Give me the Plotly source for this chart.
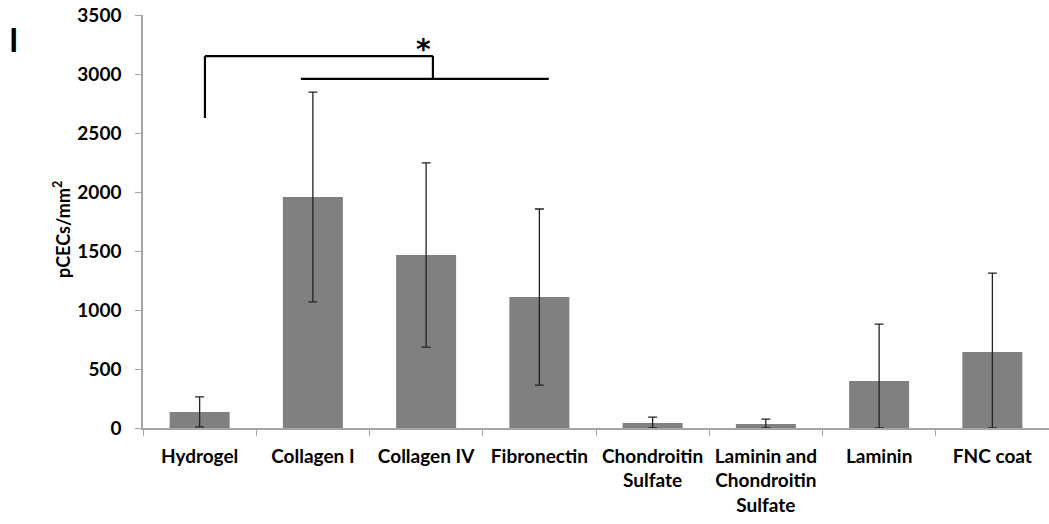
import plotly.graph_objects as go

categories = ["Hydrogel", "Collagen I", "Collagen IV", "Fibronectin",
              "Chondroitin<br>Sulfate", "Laminin and<br>Chondroitin<br>Sulfate",
              "Laminin", "FNC coat"]
values = [136, 1958, 1466, 1110, 42, 34, 398, 644]
errors = [127, 889, 780, 746, 51, 42, 483, 669]
errors_minus = [min(e, v) for e, v in zip(errors, values)]
y_ticks = [0, 500, 1000, 1500, 2000, 2500, 3000, 3500]

FONT = "Lato"

fig = go.Figure()
fig.add_trace(go.Bar(
    x=categories, y=values,
    marker=dict(color="#808080", line=dict(width=0)),
    error_y=dict(type="data", array=errors, arrayminus=errors_minus,
                 color="#222222", thickness=1.3, width=4.5),
    width=0.53,
))

# significance bracket
line = dict(color="black", width=2.2)
fig.add_shape(type="line", x0=0.047, x1=0.047, y0=2627, y1=3152, line=line)
fig.add_shape(type="line", x0=0.047, x1=2.06, y0=3152, y1=3152, line=line)
fig.add_shape(type="line", x0=2.06, x1=2.06, y0=3152, y1=2958, line=line)
fig.add_shape(type="line", x0=0.894, x1=3.083, y0=2958, y1=2958, line=line)
fig.add_annotation(x=1.98, y=3152, text="<b>*</b>", showarrow=False, yanchor="bottom",
                   yshift=-12, font=dict(size=28, color="black", family="DejaVu Sans"))

# panel label
fig.add_annotation(xref="paper", yref="paper", x=(14 - 143) / 906, y=(428 - 39) / 413,
                   text="<b>I</b>", showarrow=False, xanchor="center", yanchor="middle",
                   font=dict(size=32, color="black", family=FONT))

# y-axis title
fig.add_annotation(xref="paper", yref="paper", x=(62 - 143) / 906, y=(428 - 230) / 413,
                   text="<b>pCECs/mm<sup>2</sup></b>", textangle=-90, showarrow=False,
                   xanchor="center", yanchor="middle",
                   font=dict(size=18, color="black", family=FONT))

fig.update_layout(
    width=1049, height=524,
    margin=dict(l=143, r=0, t=15, b=96),
    paper_bgcolor="white", plot_bgcolor="white",
    showlegend=False,
    font=dict(family=FONT, color="black"),
    xaxis=dict(
        automargin=False,
        showline=True, linecolor="#a6a6a6", linewidth=1.5,
        ticks="outside", tickson="boundaries", ticklen=6, tickcolor="#a6a6a6",
        tickfont=dict(size=19, family=FONT, color="black", weight="bold"),
        ticklabelstandoff=10,
        range=[-0.5, 7.5], showgrid=False,
    ),
    yaxis=dict(
        automargin=False,
        range=[0, 3500], tickvals=y_ticks,
        showline=True, linecolor="#a6a6a6", linewidth=1.5,
        ticks="outside", ticklen=6, tickcolor="#a6a6a6",
        tickfont=dict(size=19, family=FONT, color="black", weight="bold"),
        ticklabelstandoff=10,
        showgrid=False, zeroline=False,
    ),
)

fig.write_html("out.html", config={"displayModeBar": False},
               post_script="document.body.style.margin='0';document.body.style.overflow='hidden';")
